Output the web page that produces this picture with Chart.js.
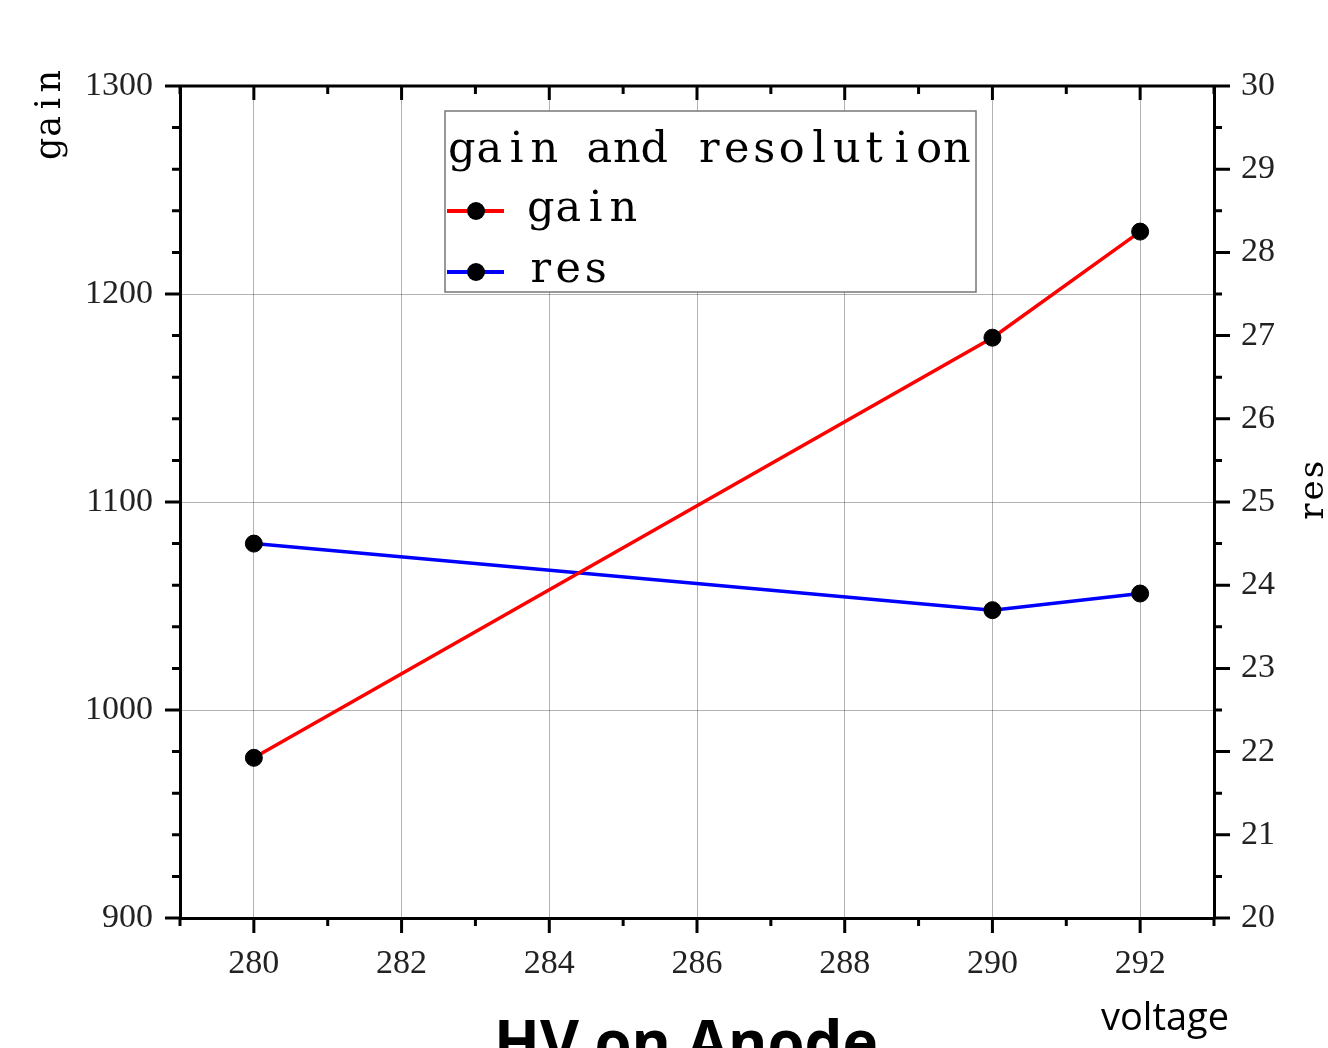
<!DOCTYPE html>
<html>
<head>
<meta charset="utf-8">
<script src="https://cdn.jsdelivr.net/npm/chart.js@4.4.1/dist/chart.umd.min.js"></script>
<style>
  html, body { margin: 0; padding: 0; background: #fff; }
  #wrap { width: 1328px; height: 1048px; overflow: hidden; }
</style>
</head>
<body>
<div id="wrap"><canvas id="myChart" width="1328" height="1048"></canvas></div>
<script>
// values
var voltages = [280, 290, 292];
var gainValues = [977, 1179, 1230];
var resValues = [24.5, 23.7, 23.9];
var seriesNames = ['gain', 'res'];
var legendTitle = 'gain and resolution';

var serif = '"Liberation Serif", "DejaVu Serif", serif';
var wideSerif = '"DejaVu Serif", "Liberation Serif", serif';
var gridGray = 'rgba(0,0,0,0.3)';

function toPoints(xs, ys) {
    var pts = [];
    for (var i = 0; i < xs.length; i++) pts.push({x: xs[i], y: ys[i]});
    return pts;
}

// serif glyphs placed in fixed cells, like the wide typewriter look of the original
function drawMono(ctx, text, x, y, cell) {
    ctx.textAlign = 'center';
    for (var i = 0; i < text.length; i++) {
        if (text[i] !== ' ') ctx.fillText(text[i], x + i * cell + cell / 2, y);
    }
}

var framePlugin = {
    id: 'frame',
    afterDraw: function(chart) {
        var ctx = chart.ctx;
        var a = chart.chartArea;
        var sx = chart.scales.x, sy = chart.scales.y, sy1 = chart.scales.y1;
        ctx.save();
        ctx.strokeStyle = '#000';
        ctx.lineWidth = 3;
        ctx.lineCap = 'butt';

        // top frame line
        ctx.beginPath();
        ctx.moveTo(a.left, a.top);
        ctx.lineTo(a.right, a.top);
        ctx.stroke();

        ctx.beginPath();
        sx.ticks.forEach(function(t) {
            var px = sx.getPixelForValue(t.value);
            var major = t.value % 2 === 0;
            ctx.moveTo(px, a.bottom);
            ctx.lineTo(px, a.bottom + (major ? 15 : 8));
            ctx.moveTo(px, a.top);
            ctx.lineTo(px, a.top + (major ? 14 : 8));
        });
        sy.ticks.forEach(function(t) {
            var py = sy.getPixelForValue(t.value);
            var major = t.value % 100 === 0;
            ctx.moveTo(a.left, py);
            ctx.lineTo(a.left - (major ? 15 : 8), py);
        });
        sy1.ticks.forEach(function(t) {
            var py = sy1.getPixelForValue(t.value);
            var major = Math.abs(t.value - Math.round(t.value)) < 1e-6;
            ctx.moveTo(a.right, py);
            ctx.lineTo(a.right + (major ? 16 : 8), py);
        });
        ctx.stroke();

        // legend box
        var bx = 445, by = 111, bw = 531, bh = 181;
        ctx.fillStyle = '#fff';
        ctx.fillRect(bx, by, bw, bh);
        ctx.strokeStyle = '#777';
        ctx.lineWidth = 1.5;
        ctx.strokeRect(bx, by, bw, bh);

        ctx.fillStyle = '#000';
        ctx.textBaseline = 'alphabetic';
        ctx.font = '43px ' + wideSerif;
        drawMono(ctx, legendTitle, 448, 162, 27.5);

        var rows = [211, 272];
        chart.data.datasets.forEach(function(ds, i) {
            var ry = rows[i];
            ctx.strokeStyle = ds.borderColor;
            ctx.lineWidth = 4;
            ctx.beginPath();
            ctx.moveTo(447, ry);
            ctx.lineTo(504, ry);
            ctx.stroke();
            ctx.fillStyle = '#000';
            ctx.beginPath();
            ctx.arc(476, ry, 9, 0, Math.PI * 2);
            ctx.fill();
            drawMono(ctx, ds.label, 527, ry + 10, 27.5);
        });

        // axis titles, both reading bottom to top
        ctx.font = '35px ' + wideSerif;
        ctx.save();
        ctx.translate(60, 160);
        ctx.rotate(-Math.PI / 2);
        drawMono(ctx, 'gain', 0, 0, 22.5);
        ctx.restore();

        ctx.font = '34px ' + wideSerif;
        ctx.save();
        ctx.translate(1323, 522);
        ctx.rotate(-Math.PI / 2);
        drawMono(ctx, 'res', 0, 0, 21);
        ctx.restore();

        ctx.textAlign = 'left';
        ctx.font = '38px "Open Sans", sans-serif';
        ctx.fillText('voltage', 1101, 1030);

        ctx.textAlign = 'center';
        ctx.font = 'bold 60px "Open Sans", sans-serif';
        ctx.fillText('HV on Anode', 686, 1064);
        ctx.restore();
    }
};

var ctx = document.getElementById('myChart');
new Chart(ctx, {
    type: 'line',
    data: {
        datasets: [{
            label: seriesNames[0],
            data: toPoints(voltages, gainValues),
            yAxisID: 'y',
            borderColor: 'rgb(255, 0, 0)',
            borderWidth: 3.5,
            pointRadius: 8.5,
            pointBorderWidth: 1,
            pointBackgroundColor: '#000',
            pointBorderColor: '#000',
            tension: 0
        }, {
            label: seriesNames[1],
            data: toPoints(voltages, resValues),
            yAxisID: 'y1',
            borderColor: 'rgb(0, 0, 255)',
            borderWidth: 3.5,
            pointRadius: 8.5,
            pointBorderWidth: 1,
            pointBackgroundColor: '#000',
            pointBorderColor: '#000',
            tension: 0
        }]
    },
    options: {
        responsive: false,
        animation: false,
        layout: { padding: { top: 86, left: 0, right: 0, bottom: 0 } },
        plugins: {
            legend: { display: false },
            tooltip: { enabled: false }
        },
        scales: {
            x: {
                type: 'linear',
                position: 'bottom',
                min: 279,
                max: 293,
                afterFit: function(s) { s.height = 130; },
                ticks: {
                    stepSize: 1,
                    autoSkip: false,
                    maxRotation: 0,
                    padding: 26,
                    color: '#222',
                    font: { family: serif, size: 34 },
                    callback: function(v) { return v % 2 === 0 ? v : ''; }
                },
                grid: {
                    drawTicks: false,
                    lineWidth: 1,
                    color: function(c) { return (c.tick && c.tick.value % 2 === 0) ? gridGray : 'transparent'; }
                },
                border: { display: true, color: '#000', width: 3 }
            },
            y: {
                position: 'left',
                min: 900,
                max: 1300,
                afterFit: function(s) { s.width = 180; },
                ticks: {
                    stepSize: 20,
                    autoSkip: false,
                    padding: 27,
                    color: '#222',
                    font: { family: serif, size: 34 },
                    callback: function(v) { return v % 100 === 0 ? v : ''; }
                },
                grid: {
                    drawTicks: false,
                    lineWidth: 1,
                    color: function(c) {
                        var v = c.tick && c.tick.value;
                        return (v % 100 === 0 && v > 900 && v < 1300) ? gridGray : 'transparent';
                    }
                },
                border: { display: true, color: '#000', width: 3 }
            },
            y1: {
                position: 'right',
                min: 20,
                max: 30,
                afterFit: function(s) { s.width = 114; },
                ticks: {
                    stepSize: 0.5,
                    autoSkip: false,
                    padding: 27,
                    color: '#222',
                    font: { family: serif, size: 34 },
                    callback: function(v) { return Math.abs(v - Math.round(v)) < 1e-6 ? v : ''; }
                },
                grid: { display: false, drawTicks: false },
                border: { display: true, color: '#000', width: 3 }
            }
        }
    },
    plugins: [framePlugin]
});
</script>
</body>
</html>
